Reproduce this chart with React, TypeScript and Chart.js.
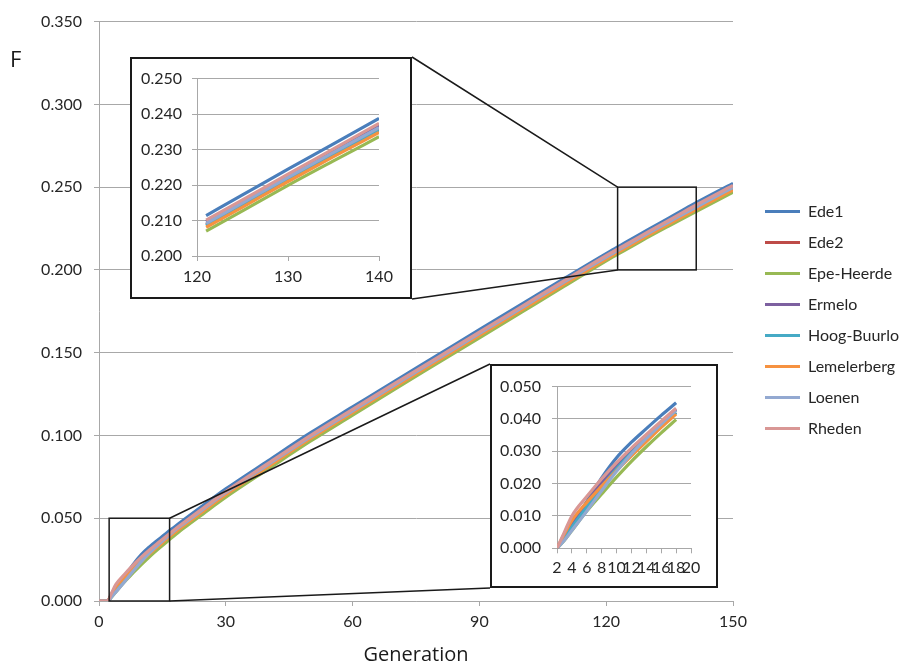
import React, { useEffect, useRef } from "react";
import { Chart, registerables } from "chart.js";

Chart.register(...registerables);

// ---------- data ----------
const GENS = [0, 2, 3, 4, 6, 8, 10, 12, 14, 16, 18, 20, 25, 30, 40, 50, 60, 70, 80, 90, 100, 110, 121, 125, 130, 135, 140, 150];

const EDE1 = [0, 0, 0.0038, 0.0074, 0.0144, 0.0218, 0.028, 0.0328, 0.037, 0.0411, 0.045, 0.0489, 0.0584, 0.0677, 0.0847, 0.1015, 0.1172, 0.1329, 0.1484, 0.1639, 0.1793, 0.1947, 0.2114, 0.2172, 0.2245, 0.2316, 0.2388, 0.2523];
const EDE2 = [0, 0, 0.0038, 0.007, 0.0135, 0.02, 0.0252, 0.0298, 0.034, 0.0381, 0.042, 0.046, 0.0555, 0.0648, 0.0818, 0.0986, 0.1144, 0.13, 0.1455, 0.161, 0.1765, 0.192, 0.2088, 0.2145, 0.2217, 0.2287, 0.2357, 0.2492];
const EPE_HEERDE = [0, 0, 0.0025, 0.0055, 0.0115, 0.0168, 0.022, 0.0269, 0.0314, 0.0357, 0.0398, 0.0439, 0.0534, 0.0627, 0.0797, 0.0965, 0.1123, 0.128, 0.1435, 0.159, 0.1745, 0.19, 0.207, 0.2127, 0.2199, 0.2268, 0.2336, 0.247];
const ERMELO = [0, 0, 0.0038, 0.0076, 0.0141, 0.0201, 0.0255, 0.0303, 0.0347, 0.0389, 0.0429, 0.0469, 0.0564, 0.0657, 0.0827, 0.0995, 0.1153, 0.131, 0.1465, 0.162, 0.1775, 0.193, 0.2097, 0.2154, 0.2227, 0.2297, 0.2368, 0.2504];
const HOOG_BUURLO = [0, 0, 0.003, 0.0065, 0.0128, 0.019, 0.0246, 0.0295, 0.0339, 0.038, 0.042, 0.0459, 0.0554, 0.0647, 0.0817, 0.0985, 0.1143, 0.1299, 0.1454, 0.1609, 0.1763, 0.1918, 0.2086, 0.2143, 0.2215, 0.2285, 0.2354, 0.2489];
const LEMELERBERG = [0, 0, 0.0045, 0.0086, 0.0142, 0.0192, 0.024, 0.0286, 0.033, 0.0374, 0.0415, 0.0454, 0.0549, 0.0642, 0.0812, 0.098, 0.1138, 0.1294, 0.1449, 0.1604, 0.1758, 0.1913, 0.2081, 0.2138, 0.221, 0.228, 0.2348, 0.2483];
const LOENEN = [0, 0, 0.0025, 0.0055, 0.0115, 0.0178, 0.0238, 0.0292, 0.034, 0.0384, 0.0427, 0.0466, 0.0561, 0.0654, 0.0824, 0.0991, 0.1149, 0.1306, 0.1461, 0.1616, 0.1771, 0.1926, 0.2092, 0.215, 0.2222, 0.2292, 0.2362, 0.2498];
const RHEDEN = [0, 0, 0.005, 0.01, 0.016, 0.0215, 0.0265, 0.031, 0.0352, 0.0393, 0.0433, 0.0473, 0.0568, 0.0661, 0.0831, 0.0999, 0.1157, 0.1314, 0.1469, 0.1624, 0.1779, 0.1934, 0.2101, 0.2158, 0.2231, 0.2302, 0.2374, 0.251];

const SERIES_NAMES = ["Ede1", "Ede2", "Epe-Heerde", "Ermelo", "Hoog-Buurlo", "Lemelerberg", "Loenen", "Rheden"];
const SERIES_VALUES = [EDE1, EDE2, EPE_HEERDE, ERMELO, HOOG_BUURLO, LEMELERBERG, LOENEN, RHEDEN];
const SERIES_COLORS = ["#4A7EBB", "#BE4B48", "#98B954", "#7D60A0", "#46AAC5", "#F69240", "#93A9D1", "#D99795"];

// axis ranges / ticks
const MAIN_X = { min: 0, max: 150, step: 30 };
const MAIN_Y = { min: 0, max: 0.35, step: 0.05 };
const TOP_X = { min: 120, max: 140, step: 10 };
const TOP_Y = { min: 0.2, max: 0.25, step: 0.01 };
const BOT_X = { min: 2, max: 20, step: 2 };
const BOT_Y = { min: 0, max: 0.05, step: 0.01 };

// zoom windows marked on the main chart (data units)
const TOP_ZOOM = { x0: 122.7, x1: 141.3, y0: 0.2, y1: 0.25 };
const BOT_ZOOM = { x0: 2.4, x1: 16.7, y0: 0, y1: 0.05 };
// gens shown in each inset
const TOP_RANGE = [121, 140];
const BOT_RANGE = [2, 18];

// ---------- layout ----------
const W = 901;
const H = 665;
const TOP_INSET = { left: 130, top: 57, width: 282, height: 242 };
const BOT_INSET = { left: 490, top: 364, width: 228, height: 224 };
const BORDER = 2;

const GRID = "#a8a8a8";
const TEXT = "#262626";
const TICK_FONT = { family: "Lato", size: 16 };

function buildDatasets(range?: number[]) {
  return SERIES_NAMES.map((name, i) => {
    const pts = GENS.map((g, j) => ({ x: g, y: SERIES_VALUES[i][j] })).filter(
      (p) => !range || (p.x >= range[0] && p.x <= range[1])
    );
    return {
      label: name,
      data: pts,
      borderColor: SERIES_COLORS[i],
      backgroundColor: SERIES_COLORS[i],
      borderWidth: 3.2,
      pointRadius: 0,
      pointHoverRadius: 0,
      fill: false,
      cubicInterpolationMode: "monotone" as const,
      order: SERIES_NAMES.length - 1 - i,
    };
  });
}

const overlayPlugin = {
  id: "overlay",
  afterDatasetsDraw(chart: any) {
    const { ctx } = chart;
    const x = chart.scales.x;
    const y = chart.scales.y;
    ctx.save();
    ctx.strokeStyle = "#1a1a1a";
    ctx.lineWidth = 1.5;

    const tx0 = x.getPixelForValue(TOP_ZOOM.x0);
    const tx1 = x.getPixelForValue(TOP_ZOOM.x1);
    const tyB = y.getPixelForValue(TOP_ZOOM.y0);
    const tyT = y.getPixelForValue(TOP_ZOOM.y1);
    ctx.strokeRect(tx0, tyT, tx1 - tx0, tyB - tyT);
    ctx.beginPath();
    ctx.moveTo(TOP_INSET.left + TOP_INSET.width, TOP_INSET.top);
    ctx.lineTo(tx0, tyT);
    ctx.moveTo(TOP_INSET.left + TOP_INSET.width, TOP_INSET.top + TOP_INSET.height);
    ctx.lineTo(tx0, tyB);
    ctx.stroke();

    const bx0 = x.getPixelForValue(BOT_ZOOM.x0);
    const bx1 = x.getPixelForValue(BOT_ZOOM.x1);
    const byB = y.getPixelForValue(BOT_ZOOM.y0);
    const byT = y.getPixelForValue(BOT_ZOOM.y1);
    ctx.strokeRect(bx0, byT, bx1 - bx0, byB - byT);
    ctx.beginPath();
    ctx.moveTo(bx1, byT);
    ctx.lineTo(BOT_INSET.left, BOT_INSET.top);
    ctx.moveTo(bx1, byB);
    ctx.lineTo(BOT_INSET.left, BOT_INSET.top + BOT_INSET.height);
    ctx.stroke();

    // y axis label "F"
    ctx.fillStyle = "#1a1a1a";
    ctx.font = '22px "Open Sans"';
    ctx.textAlign = "left";
    ctx.textBaseline = "alphabetic";
    ctx.fillText("F", 10, 67);
    ctx.restore();
  },
};

function mainConfig(): any {
  return {
    type: "line",
    data: { datasets: buildDatasets() },
    plugins: [overlayPlugin],
    options: {
      animation: false,
      responsive: false,
      events: [],
      layout: { padding: { top: 16, left: 0, right: 0, bottom: 0 } },
      plugins: {
        tooltip: { enabled: false },
        legend: {
          position: "right",
          align: "start",
          maxWidth: 151,
          title: { display: true, text: "", font: { size: 12, lineHeight: 1 }, padding: { top: 160.5, bottom: 0 } },
          labels: {
            usePointStyle: true,
            pointStyle: "line",
            pointStyleWidth: 35,
            boxHeight: 15,
            padding: 15,
            color: TEXT,
            font: { family: "Lato", size: 16 },
            sort: (a: any, b: any) => a.datasetIndex - b.datasetIndex,
          },
        },
      },
      scales: {
        x: {
          type: "linear",
          min: MAIN_X.min,
          max: MAIN_X.max,
          ticks: { stepSize: MAIN_X.step, font: TICK_FONT, color: TEXT, padding: 6, maxRotation: 0 },
          grid: { drawOnChartArea: false, drawTicks: true, tickLength: 5, color: GRID },
          border: { color: GRID },
          title: {
            display: true,
            text: "Generation",
            color: "#1a1a1a",
            font: { family: "Open Sans", size: 20, lineHeight: 1 },
            padding: { top: 0, bottom: 0 },
          },
          afterFit: (s: any) => {
            s.height = 64;
          },
        },
        y: {
          type: "linear",
          min: MAIN_Y.min,
          max: MAIN_Y.max,
          ticks: {
            stepSize: MAIN_Y.step,
            font: TICK_FONT,
            color: TEXT,
            padding: 12,
            callback: (v: any) => Number(v).toFixed(3),
          },
          grid: { color: GRID, tickLength: 5 },
          border: { color: GRID },
          afterFit: (s: any) => {
            s.width = 99;
          },
        },
        gap: {
          type: "linear",
          position: "right",
          display: true,
          ticks: { display: false },
          grid: { display: false },
          border: { display: false },
          afterFit: (s: any) => {
            s.width = 17;
          },
        },
      },
    },
  };
}

function insetConfig(
  range: number[],
  xs: { min: number; max: number; step: number },
  ys: { min: number; max: number; step: number },
  pad: { top: number; right: number; left: number; xh: number; ypad: number; xpad: number }
): any {
  return {
    type: "line",
    data: { datasets: buildDatasets(range) },
    options: {
      animation: false,
      responsive: false,
      events: [],
      layout: { padding: { top: pad.top, right: pad.right, left: 0, bottom: 0 } },
      plugins: { legend: { display: false }, tooltip: { enabled: false } },
      scales: {
        x: {
          type: "linear",
          min: xs.min,
          max: xs.max,
          ticks: { stepSize: xs.step, font: TICK_FONT, color: TEXT, padding: pad.xpad, maxRotation: 0, minRotation: 0, autoSkip: false },
          grid: { drawOnChartArea: false, drawTicks: true, tickLength: 5, color: GRID },
          border: { color: GRID },
          afterFit: (s: any) => {
            s.height = pad.xh;
          },
        },
        y: {
          type: "linear",
          min: ys.min,
          max: ys.max,
          ticks: {
            stepSize: ys.step,
            font: TICK_FONT,
            color: TEXT,
            padding: pad.ypad,
            callback: (v: any) => Number(v).toFixed(3),
          },
          grid: { color: GRID, tickLength: 5 },
          border: { color: GRID },
          afterFit: (s: any) => {
            s.width = pad.left;
          },
        },
      },
    },
  };
}

export default function App() {
  const mainRef = useRef<HTMLCanvasElement>(null);
  const topRef = useRef<HTMLCanvasElement>(null);
  const botRef = useRef<HTMLCanvasElement>(null);

  const topW = TOP_INSET.width - 2 * BORDER;
  const topH = TOP_INSET.height - 2 * BORDER;
  const botW = BOT_INSET.width - 2 * BORDER;
  const botH = BOT_INSET.height - 2 * BORDER;

  useEffect(() => {
    const charts: Chart[] = [];
    if (mainRef.current) charts.push(new Chart(mainRef.current, mainConfig()));
    if (topRef.current)
      charts.push(
        new Chart(
          topRef.current,
          insetConfig(TOP_RANGE, TOP_X, TOP_Y, { top: 17, right: 31, left: 65, xh: 41, ypad: 10, xpad: 6 })
        )
      );
    if (botRef.current)
      charts.push(
        new Chart(
          botRef.current,
          insetConfig(BOT_RANGE, BOT_X, BOT_Y, { top: 18.3, right: 25, left: 65, xh: 37.7, ypad: 11, xpad: 5 })
        )
      );
    return () => charts.forEach((c) => c.destroy());
  }, []);

  const boxStyle = (b: { left: number; top: number; width: number; height: number }): React.CSSProperties => ({
    position: "absolute",
    left: b.left,
    top: b.top,
    width: b.width,
    height: b.height,
    boxSizing: "border-box",
    border: `${BORDER}px solid #1a1a1a`,
    background: "#ffffff",
  });

  return (
    <div style={{ position: "absolute", left: 0, top: 0, width: W, height: H, background: "#ffffff", overflow: "hidden" }}>
      <canvas ref={mainRef} width={W} height={H} style={{ position: "absolute", left: 0, top: 0, width: W, height: H }} />
      <div style={boxStyle(TOP_INSET)}>
        <canvas ref={topRef} width={topW} height={topH} style={{ display: "block", width: topW, height: topH }} />
      </div>
      <div style={boxStyle(BOT_INSET)}>
        <canvas ref={botRef} width={botW} height={botH} style={{ display: "block", width: botW, height: botH }} />
      </div>
    </div>
  );
}
